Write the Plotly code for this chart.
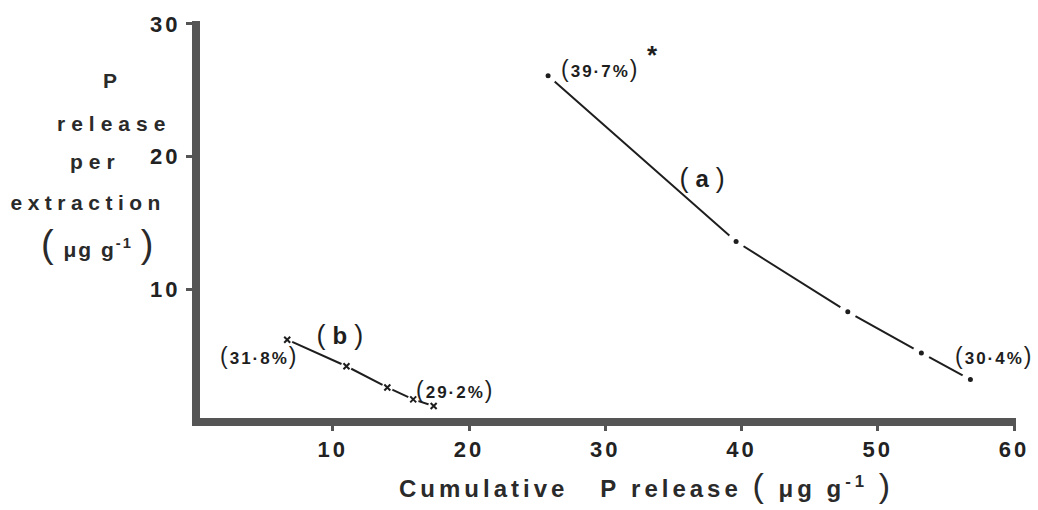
import json
import plotly.graph_objects as go

# Successive extractions: cumulative P released vs. P released in each extraction
a_cumulative = [25.8, 39.6, 47.8, 53.2, 56.8]
a_release = [26.1, 13.6, 8.3, 5.2, 3.2]

b_cumulative = [6.65, 11.0, 14.0, 15.9, 17.4]
b_release = [6.2, 4.2, 2.6, 1.7, 1.2]

a_first_label = "39\u00b77%"
a_last_label = "30\u00b74%"
b_first_label = "31\u00b78%"
b_last_label = "29\u00b72%"

x_ticks = [10, 20, 30, 40, 50, 60]
y_ticks = [10, 20, 30]

AXIS = "#555555"
INK = "#1e1e1e"
FAMILY = "Liberation Sans, Arial, sans-serif"

# plot area geometry (pixels)
W, H = 1038, 510
L, R, T, B = 200, 1017, 18, 418


def px(xp):
    return (xp - L) / (R - L)


def py(yp):
    return (B - yp) / (B - T)


def paren(s, size):
    return "<span style='font-size:%dpx;font-weight:normal'>%s</span>" % (size, s)


fig = go.Figure()

# connecting lines
fig.add_trace(go.Scatter(x=a_cumulative, y=a_release, mode="lines",
                         line=dict(color=INK, width=2), hoverinfo="skip"))
fig.add_trace(go.Scatter(x=b_cumulative, y=b_release, mode="lines",
                         line=dict(color=INK, width=2), hoverinfo="skip"))
# white halos leave a small gap between each point and its segments
fig.add_trace(go.Scatter(x=a_cumulative, y=a_release, mode="markers",
                         marker=dict(color="white", size=18), hoverinfo="skip"))
fig.add_trace(go.Scatter(x=b_cumulative, y=b_release, mode="markers",
                         marker=dict(color="white", size=11), hoverinfo="skip"))
# the points themselves
fig.add_trace(go.Scatter(x=a_cumulative, y=a_release, mode="markers",
                         marker=dict(color=INK, size=5, symbol="circle")))
fig.add_trace(go.Scatter(x=b_cumulative, y=b_release, mode="markers",
                         marker=dict(color=INK, size=6, symbol="x-thin",
                                     line=dict(color=INK, width=2))))

LABEL_FONT = dict(family=FAMILY, size=17, color=INK, weight="bold")

annotations = []
spacing = []


def add_ann(spc, **kw):
    annotations.append(dict(showarrow=False, xanchor="center", yanchor="middle", **kw))
    spacing.append(spc)


def pct(s):
    return paren("(", 23) + s + paren(")", 23)


# percentage labels attached to the first / last points of each series
add_ann(2, x=a_cumulative[0], y=a_release[0], xref="x", yref="y", text=pct(a_first_label),
        xshift=52, yshift=7, font=LABEL_FONT)
add_ann(0, x=a_cumulative[0], y=a_release[0], xref="x", yref="y", text="*",
        xshift=104, yshift=21, font=dict(family=FAMILY, size=26, color=INK, weight="bold"))
add_ann(2, x=a_cumulative[-1], y=a_release[-1], xref="x", yref="y", text=pct(a_last_label),
        xshift=24, yshift=24, font=LABEL_FONT)
add_ann(2, x=b_cumulative[0], y=b_release[0], xref="x", yref="y", text=pct(b_first_label),
        xshift=-28, yshift=-16, font=LABEL_FONT)
add_ann(2, x=b_cumulative[-1], y=b_release[-1], xref="x", yref="y", text=pct(b_last_label),
        xshift=21, yshift=16, font=LABEL_FONT)

# series names
SERIES_FONT = dict(family=FAMILY, size=24, color=INK, weight="bold")
add_ann(7, x=px(706), y=py(176), xref="paper", yref="paper",
        text=paren("(", 27) + "a" + paren(")", 27), font=SERIES_FONT)
add_ann(7, x=px(344), y=py(334), xref="paper", yref="paper",
        text=paren("(", 27) + "b" + paren(")", 27), font=SERIES_FONT)

# y-axis title, stacked line by line
YT_FONT = dict(family=FAMILY, size=21, color="#2a2a2a", weight="bold")
y_title_lines = [
    ("P", 6, 113, 78),
    ("release", 6, 114, 121),
    ("per", 6, 95, 160),
    ("extraction", 5.5, 88, 201),
    (paren("(", 38) + "\u00a0\u03bcg\u00a0g<sup>-1</sup>\u00a0" + paren(")", 38), 2, 98, 243),
]
for txt, spc, xp, yp in y_title_lines:
    add_ann(spc, x=px(xp), y=py(yp), xref="paper", yref="paper", text=txt, font=YT_FONT)

# x-axis title
add_ann(4, x=px(647), y=py(486), xref="paper", yref="paper",
        text="Cumulative\u00a0\u00a0\u00a0P\u00a0release\u00a0" + paren("(", 34)
             + "\u00a0\u03bcg\u00a0g<sup>-1</sup>\u00a0" + paren(")", 34),
        font=dict(family=FAMILY, size=24, color="#2a2a2a", weight="bold"))

TICK_FONT = dict(family=FAMILY, size=22, color="#222222", weight="bold")

fig.update_layout(
    width=W, height=H,
    margin=dict(l=L, r=W - R, t=T, b=H - B, pad=0),
    paper_bgcolor="white", plot_bgcolor="white",
    showlegend=False,
    annotations=annotations,
    xaxis=dict(range=[(L - 196.6) / 13.64, (R - 196.6) / 13.64],
               tickvals=x_ticks, ticktext=[str(v) for v in x_ticks],
               showgrid=False, zeroline=False,
               showline=True, linecolor=AXIS, linewidth=8,
               ticks="outside", ticklen=5, tickwidth=3, tickcolor=AXIS,
               tickfont=TICK_FONT, ticklabelstandoff=0),
    yaxis=dict(range=[(422 - B) / 13.37, (422 - T) / 13.37],
               tickvals=y_ticks, ticktext=[str(v) for v in y_ticks],
               showgrid=False, zeroline=False,
               showline=True, linecolor=AXIS, linewidth=8,
               ticks="outside", ticklen=6, tickwidth=3, tickcolor=AXIS,
               tickfont=TICK_FONT, ticklabelstandoff=1),
)

# widen the letter spacing of the lettering
post = """
var sp = %s;
var gd = document.getElementById('{plot_id}');
function applySpacing() {
  gd.querySelectorAll('.xtick text').forEach(function (t) { t.style.letterSpacing = '3px'; });
  gd.querySelectorAll('.ytick text').forEach(function (t) { t.style.letterSpacing = '3px'; });
  gd.querySelectorAll('.annotation').forEach(function (g) {
    var i = parseInt(g.getAttribute('data-index'));
    var t = g.querySelector('text');
    if (t && sp[i]) { t.style.letterSpacing = sp[i] + 'px'; }
  });
}
applySpacing();
gd.on('plotly_afterplot', applySpacing);
""" % json.dumps(spacing)

fig.write_html("out.html", post_script=post, config={"displayModeBar": False})
